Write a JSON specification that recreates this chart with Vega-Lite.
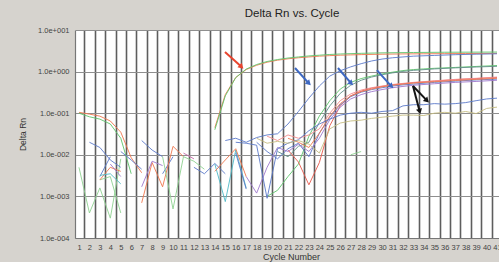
{
  "$schema": "https://vega.github.io/schema/vega-lite/v6.json",
  "autosize": {"type": "none"},
  "width": 424,
  "height": 208,
  "padding": {"left": 75, "top": 30, "right": 0, "bottom": 24},
  "background": "#d6d3ce",
  "config": {
    "view": {"fill": "#ffffff", "stroke": null},
    "font": "Liberation Sans",
    "axis": {"labelFont": "Liberation Sans", "titleFont": "Liberation Sans"}
  },
  "title": {"text": "Delta Rn vs. Cycle", "fontSize": 11.5, "fontWeight": "normal", "color": "#222222", "offset": 7, "dx": 5, "font": "Liberation Sans"},
  "datasets": {
    "curves": [
      {"s":"e1","k":"orange","c":1,"v":0.105},{"s":"e1","k":"orange","c":2,"v":0.095},{"s":"e1","k":"orange","c":3,"v":0.085},{"s":"e1","k":"orange","c":4,"v":0.065},{"s":"e1","k":"orange","c":5,"v":0.035},{"s":"e1","k":"orange","c":6,"v":0.0085},{"s":"e1","k":"orange","c":7,"v":0.0037},
      {"s":"e2","k":"green","c":1,"v":0.1},{"s":"e2","k":"green","c":2,"v":0.082},{"s":"e2","k":"green","c":3,"v":0.072},{"s":"e2","k":"green","c":4,"v":0.055},{"s":"e2","k":"green","c":5,"v":0.025},{"s":"e2","k":"green","c":6,"v":0.0035},
      {"s":"A1","k":"orange","c":14,"v":0.045},{"s":"A1","k":"orange","c":15,"v":0.28},{"s":"A1","k":"orange","c":16,"v":0.72},{"s":"A1","k":"orange","c":17,"v":1.12},{"s":"A1","k":"orange","c":18,"v":1.42},{"s":"A1","k":"orange","c":19,"v":1.68},{"s":"A1","k":"orange","c":20,"v":1.88},{"s":"A1","k":"orange","c":21,"v":2.03},{"s":"A1","k":"orange","c":22,"v":2.15},{"s":"A1","k":"orange","c":23,"v":2.25},{"s":"A1","k":"orange","c":24,"v":2.35},{"s":"A1","k":"orange","c":25,"v":2.42},{"s":"A1","k":"orange","c":26,"v":2.48},{"s":"A1","k":"orange","c":27,"v":2.52},{"s":"A1","k":"orange","c":28,"v":2.56},{"s":"A1","k":"orange","c":30,"v":2.62},{"s":"A1","k":"orange","c":32,"v":2.66},{"s":"A1","k":"orange","c":34,"v":2.68},{"s":"A1","k":"orange","c":36,"v":2.7},{"s":"A1","k":"orange","c":38,"v":2.72},{"s":"A1","k":"orange","c":41,"v":2.74},
      {"s":"A2","k":"green","c":14,"v":0.04},{"s":"A2","k":"green","c":15,"v":0.26},{"s":"A2","k":"green","c":16,"v":0.72},{"s":"A2","k":"green","c":17,"v":1.15},{"s":"A2","k":"green","c":18,"v":1.48},{"s":"A2","k":"green","c":19,"v":1.75},{"s":"A2","k":"green","c":20,"v":1.95},{"s":"A2","k":"green","c":21,"v":2.12},{"s":"A2","k":"green","c":22,"v":2.25},{"s":"A2","k":"green","c":23,"v":2.38},{"s":"A2","k":"green","c":24,"v":2.48},{"s":"A2","k":"green","c":25,"v":2.58},{"s":"A2","k":"green","c":26,"v":2.65},{"s":"A2","k":"green","c":28,"v":2.75},{"s":"A2","k":"green","c":30,"v":2.82},{"s":"A2","k":"green","c":33,"v":2.88},{"s":"A2","k":"green","c":36,"v":2.92},{"s":"A2","k":"green","c":41,"v":2.95},
      {"s":"B1","k":"blue","c":15,"v":0.022},{"s":"B1","k":"blue","c":16,"v":0.025},{"s":"B1","k":"blue","c":17,"v":0.02},{"s":"B1","k":"blue","c":18,"v":0.026},{"s":"B1","k":"blue","c":19,"v":0.03},{"s":"B1","k":"blue","c":20,"v":0.032},{"s":"B1","k":"blue","c":21,"v":0.055},{"s":"B1","k":"blue","c":22,"v":0.11},{"s":"B1","k":"blue","c":23,"v":0.23},{"s":"B1","k":"blue","c":24,"v":0.45},{"s":"B1","k":"blue","c":25,"v":0.78},{"s":"B1","k":"blue","c":26,"v":1.05},{"s":"B1","k":"blue","c":27,"v":1.3},{"s":"B1","k":"blue","c":28,"v":1.55},{"s":"B1","k":"blue","c":29,"v":1.8},{"s":"B1","k":"blue","c":30,"v":2.0},{"s":"B1","k":"blue","c":31,"v":2.15},{"s":"B1","k":"blue","c":32,"v":2.25},{"s":"B1","k":"blue","c":33,"v":2.35},{"s":"B1","k":"blue","c":35,"v":2.45},{"s":"B1","k":"blue","c":37,"v":2.55},{"s":"B1","k":"blue","c":39,"v":2.62},{"s":"B1","k":"blue","c":41,"v":2.68},
      {"s":"G1","k":"green","c":19,"v":0.001},{"s":"G1","k":"green","c":20,"v":0.0014},{"s":"G1","k":"green","c":21,"v":0.003},{"s":"G1","k":"green","c":22,"v":0.006},{"s":"G1","k":"green","c":23,"v":0.028},{"s":"G1","k":"green","c":24,"v":0.085},{"s":"G1","k":"green","c":25,"v":0.2},{"s":"G1","k":"green","c":26,"v":0.38},{"s":"G1","k":"green","c":27,"v":0.55},{"s":"G1","k":"green","c":28,"v":0.68},{"s":"G1","k":"green","c":29,"v":0.78},{"s":"G1","k":"green","c":30,"v":0.88},{"s":"G1","k":"green","c":31,"v":0.97},{"s":"G1","k":"green","c":32,"v":1.06},{"s":"G1","k":"green","c":33,"v":1.12},{"s":"G1","k":"green","c":34,"v":1.16},{"s":"G1","k":"green","c":35,"v":1.2},{"s":"G1","k":"green","c":37,"v":1.26},{"s":"G1","k":"green","c":39,"v":1.33},{"s":"G1","k":"green","c":41,"v":1.4},
      {"s":"T1","k":"tealgray","c":20,"v":0.012},{"s":"T1","k":"tealgray","c":21,"v":0.009},{"s":"T1","k":"tealgray","c":22,"v":0.016},{"s":"T1","k":"tealgray","c":23,"v":0.02},{"s":"T1","k":"tealgray","c":24,"v":0.06},{"s":"T1","k":"tealgray","c":25,"v":0.15},{"s":"T1","k":"tealgray","c":26,"v":0.3},{"s":"T1","k":"tealgray","c":27,"v":0.47},{"s":"T1","k":"tealgray","c":28,"v":0.62},{"s":"T1","k":"tealgray","c":29,"v":0.74},{"s":"T1","k":"tealgray","c":30,"v":0.84},{"s":"T1","k":"tealgray","c":31,"v":0.93},{"s":"T1","k":"tealgray","c":32,"v":1.01},{"s":"T1","k":"tealgray","c":33,"v":1.07},{"s":"T1","k":"tealgray","c":35,"v":1.16},{"s":"T1","k":"tealgray","c":37,"v":1.23},{"s":"T1","k":"tealgray","c":39,"v":1.29},{"s":"T1","k":"tealgray","c":41,"v":1.34},
      {"s":"R1","k":"red","c":21,"v":0.013},{"s":"R1","k":"red","c":22,"v":0.0067},{"s":"R1","k":"red","c":23,"v":0.0019},{"s":"R1","k":"red","c":24,"v":0.0065},{"s":"R1","k":"red","c":25,"v":0.05},{"s":"R1","k":"red","c":26,"v":0.15},{"s":"R1","k":"red","c":27,"v":0.26},{"s":"R1","k":"red","c":28,"v":0.34},{"s":"R1","k":"red","c":29,"v":0.4},{"s":"R1","k":"red","c":30,"v":0.44},{"s":"R1","k":"red","c":31,"v":0.48},{"s":"R1","k":"red","c":32,"v":0.51},{"s":"R1","k":"red","c":33,"v":0.54},{"s":"R1","k":"red","c":35,"v":0.59},{"s":"R1","k":"red","c":37,"v":0.64},{"s":"R1","k":"red","c":39,"v":0.68},{"s":"R1","k":"red","c":41,"v":0.72},
      {"s":"P1","k":"pink","c":19,"v":0.028},{"s":"P1","k":"pink","c":20,"v":0.022},{"s":"P1","k":"pink","c":21,"v":0.03},{"s":"P1","k":"pink","c":22,"v":0.025},{"s":"P1","k":"pink","c":23,"v":0.03},{"s":"P1","k":"pink","c":24,"v":0.042},{"s":"P1","k":"pink","c":25,"v":0.1},{"s":"P1","k":"pink","c":26,"v":0.2},{"s":"P1","k":"pink","c":27,"v":0.29},{"s":"P1","k":"pink","c":28,"v":0.36},{"s":"P1","k":"pink","c":29,"v":0.41},{"s":"P1","k":"pink","c":30,"v":0.45},{"s":"P1","k":"pink","c":31,"v":0.49},{"s":"P1","k":"pink","c":32,"v":0.52},{"s":"P1","k":"pink","c":33,"v":0.55},{"s":"P1","k":"pink","c":35,"v":0.6},{"s":"P1","k":"pink","c":37,"v":0.65},{"s":"P1","k":"pink","c":39,"v":0.69},{"s":"P1","k":"pink","c":41,"v":0.74},
      {"s":"B2","k":"blue","c":18,"v":0.02},{"s":"B2","k":"blue","c":19,"v":0.012},{"s":"B2","k":"blue","c":20,"v":0.008},{"s":"B2","k":"blue","c":21,"v":0.014},{"s":"B2","k":"blue","c":22,"v":0.019},{"s":"B2","k":"blue","c":23,"v":0.009},{"s":"B2","k":"blue","c":24,"v":0.033},{"s":"B2","k":"blue","c":25,"v":0.08},{"s":"B2","k":"blue","c":26,"v":0.16},{"s":"B2","k":"blue","c":27,"v":0.25},{"s":"B2","k":"blue","c":28,"v":0.32},{"s":"B2","k":"blue","c":29,"v":0.37},{"s":"B2","k":"blue","c":30,"v":0.41},{"s":"B2","k":"blue","c":31,"v":0.45},{"s":"B2","k":"blue","c":32,"v":0.48},{"s":"B2","k":"blue","c":33,"v":0.5},{"s":"B2","k":"blue","c":35,"v":0.55},{"s":"B2","k":"blue","c":37,"v":0.59},{"s":"B2","k":"blue","c":39,"v":0.63},{"s":"B2","k":"blue","c":41,"v":0.66},
      {"s":"V1","k":"purple","c":17,"v":0.003},{"s":"V1","k":"purple","c":18,"v":0.0012},{"s":"V1","k":"purple","c":19,"v":0.005},{"s":"V1","k":"purple","c":20,"v":0.015},{"s":"V1","k":"purple","c":21,"v":0.012},{"s":"V1","k":"purple","c":22,"v":0.018},{"s":"V1","k":"purple","c":23,"v":0.012},{"s":"V1","k":"purple","c":24,"v":0.025},{"s":"V1","k":"purple","c":25,"v":0.07},{"s":"V1","k":"purple","c":26,"v":0.14},{"s":"V1","k":"purple","c":27,"v":0.22},{"s":"V1","k":"purple","c":28,"v":0.28},{"s":"V1","k":"purple","c":29,"v":0.33},{"s":"V1","k":"purple","c":30,"v":0.37},{"s":"V1","k":"purple","c":31,"v":0.41},{"s":"V1","k":"purple","c":32,"v":0.44},{"s":"V1","k":"purple","c":33,"v":0.47},{"s":"V1","k":"purple","c":35,"v":0.51},{"s":"V1","k":"purple","c":37,"v":0.55},{"s":"V1","k":"purple","c":39,"v":0.58},{"s":"V1","k":"purple","c":41,"v":0.62},
      {"s":"O1","k":"orange","c":21,"v":0.025},{"s":"O1","k":"orange","c":22,"v":0.02},{"s":"O1","k":"orange","c":23,"v":0.015},{"s":"O1","k":"orange","c":24,"v":0.033},{"s":"O1","k":"orange","c":25,"v":0.085},{"s":"O1","k":"orange","c":26,"v":0.17},{"s":"O1","k":"orange","c":27,"v":0.26},{"s":"O1","k":"orange","c":28,"v":0.33},{"s":"O1","k":"orange","c":29,"v":0.38},{"s":"O1","k":"orange","c":30,"v":0.43},{"s":"O1","k":"orange","c":31,"v":0.47},{"s":"O1","k":"orange","c":32,"v":0.5},{"s":"O1","k":"orange","c":33,"v":0.53},{"s":"O1","k":"orange","c":35,"v":0.57},{"s":"O1","k":"orange","c":37,"v":0.61},{"s":"O1","k":"orange","c":39,"v":0.65},{"s":"O1","k":"orange","c":41,"v":0.69},
      {"s":"L1","k":"blue","c":16,"v":0.02},{"s":"L1","k":"blue","c":17,"v":0.019},{"s":"L1","k":"blue","c":18,"v":0.017},{"s":"L1","k":"blue","c":19,"v":0.0009},{"s":"L1","k":"blue","c":20,"v":0.014},{"s":"L1","k":"blue","c":21,"v":0.019},{"s":"L1","k":"blue","c":22,"v":0.023},{"s":"L1","k":"blue","c":23,"v":0.038},{"s":"L1","k":"blue","c":24,"v":0.055},{"s":"L1","k":"blue","c":25,"v":0.072},{"s":"L1","k":"blue","c":26,"v":0.09},{"s":"L1","k":"blue","c":27,"v":0.1},{"s":"L1","k":"blue","c":28,"v":0.105},{"s":"L1","k":"blue","c":29,"v":0.1},{"s":"L1","k":"blue","c":30,"v":0.11},{"s":"L1","k":"blue","c":31,"v":0.115},{"s":"L1","k":"blue","c":32,"v":0.15},{"s":"L1","k":"blue","c":33,"v":0.16},{"s":"L1","k":"blue","c":34,"v":0.16},{"s":"L1","k":"blue","c":35,"v":0.17},{"s":"L1","k":"blue","c":36,"v":0.165},{"s":"L1","k":"blue","c":37,"v":0.17},{"s":"L1","k":"blue","c":38,"v":0.18},{"s":"L1","k":"blue","c":39,"v":0.2},{"s":"L1","k":"blue","c":40,"v":0.22},{"s":"L1","k":"blue","c":41,"v":0.23},
      {"s":"Y1","k":"olive","c":18,"v":0.025},{"s":"Y1","k":"olive","c":19,"v":0.019},{"s":"Y1","k":"olive","c":20,"v":0.021},{"s":"Y1","k":"olive","c":21,"v":0.019},{"s":"Y1","k":"olive","c":22,"v":0.022},{"s":"Y1","k":"olive","c":23,"v":0.018},{"s":"Y1","k":"olive","c":24,"v":0.011},{"s":"Y1","k":"olive","c":25,"v":0.042},{"s":"Y1","k":"olive","c":26,"v":0.058},{"s":"Y1","k":"olive","c":27,"v":0.065},{"s":"Y1","k":"olive","c":28,"v":0.068},{"s":"Y1","k":"olive","c":29,"v":0.075},{"s":"Y1","k":"olive","c":30,"v":0.08},{"s":"Y1","k":"olive","c":31,"v":0.085},{"s":"Y1","k":"olive","c":32,"v":0.09},{"s":"Y1","k":"olive","c":33,"v":0.09},{"s":"Y1","k":"olive","c":34,"v":0.088},{"s":"Y1","k":"olive","c":35,"v":0.1},{"s":"Y1","k":"olive","c":36,"v":0.105},{"s":"Y1","k":"olive","c":37,"v":0.1},{"s":"Y1","k":"olive","c":38,"v":0.11},{"s":"Y1","k":"olive","c":39,"v":0.098},{"s":"Y1","k":"olive","c":40,"v":0.13},{"s":"Y1","k":"olive","c":41,"v":0.14},
      {"s":"n1","k":"lgreen","c":1,"v":0.005},{"s":"n1","k":"lgreen","c":2,"v":0.0004},{"s":"n1","k":"lgreen","c":3,"v":0.0016},{"s":"n1","k":"lgreen","c":4,"v":0.0003},{"s":"n1","k":"lgreen","c":5,"v":0.008},
      {"s":"n2","k":"lgreen","c":3,"v":0.0025},{"s":"n2","k":"lgreen","c":4,"v":0.003},{"s":"n2","k":"lgreen","c":5,"v":0.0004},
      {"s":"n3","k":"blue","c":2,"v":0.02},{"s":"n3","k":"blue","c":3,"v":0.015},{"s":"n3","k":"blue","c":4,"v":0.0075},{"s":"n3","k":"blue","c":5,"v":0.005},
      {"s":"n4","k":"orange","c":3,"v":0.0025},{"s":"n4","k":"orange","c":4,"v":0.005},{"s":"n4","k":"orange","c":5,"v":0.004},
      {"s":"n5","k":"purple","c":4,"v":0.006},{"s":"n5","k":"purple","c":5,"v":0.003},
      {"s":"n6","k":"blue","c":3,"v":0.003},{"s":"n6","k":"blue","c":4,"v":0.009},
      {"s":"n7","k":"teal","c":3,"v":0.0032},{"s":"n7","k":"teal","c":4,"v":0.0035},{"s":"n7","k":"teal","c":5,"v":0.002},
      {"s":"n8","k":"blue","c":7,"v":0.022},{"s":"n8","k":"blue","c":8,"v":0.013},{"s":"n8","k":"blue","c":9,"v":0.009},
      {"s":"n9","k":"blue","c":9,"v":0.0035},{"s":"n9","k":"blue","c":10,"v":0.009},
      {"s":"n10","k":"orange","c":7,"v":0.0007},{"s":"n10","k":"orange","c":8,"v":0.0065},{"s":"n10","k":"orange","c":9,"v":0.0017},{"s":"n10","k":"orange","c":10,"v":0.016},{"s":"n10","k":"orange","c":11,"v":0.009},
      {"s":"n11","k":"lgreen","c":9,"v":0.009},{"s":"n11","k":"lgreen","c":10,"v":0.0005},{"s":"n11","k":"lgreen","c":11,"v":0.009},{"s":"n11","k":"lgreen","c":12,"v":0.007},{"s":"n11","k":"lgreen","c":13,"v":0.0045},
      {"s":"n12","k":"purple","c":7,"v":0.0017},{"s":"n12","k":"purple","c":8,"v":0.007},{"s":"n12","k":"purple","c":9,"v":0.0055},
      {"s":"n13","k":"magenta","c":11,"v":0.011},{"s":"n13","k":"magenta","c":12,"v":0.008},
      {"s":"n14","k":"blue","c":12,"v":0.005},{"s":"n14","k":"blue","c":13,"v":0.0035},{"s":"n14","k":"blue","c":14,"v":0.0062},{"s":"n14","k":"blue","c":15,"v":0.0035},
      {"s":"n15","k":"teal","c":14,"v":0.006},{"s":"n15","k":"teal","c":15,"v":0.00075},{"s":"n15","k":"teal","c":16,"v":0.013},{"s":"n15","k":"teal","c":17,"v":0.0016},
      {"s":"n16","k":"orange","c":14,"v":0.004},{"s":"n16","k":"orange","c":15,"v":0.0075},{"s":"n16","k":"orange","c":16,"v":0.014},{"s":"n16","k":"orange","c":17,"v":0.003},
      {"s":"n17","k":"blue","c":16,"v":0.011},{"s":"n17","k":"blue","c":17,"v":0.0015},
      {"s":"n18","k":"lgreen","c":27,"v":0.01},{"s":"n18","k":"lgreen","c":28,"v":0.012},
      {"s":"n19","k":"blue","c":5,"v":0.012},{"s":"n19","k":"blue","c":6,"v":0.0075},{"s":"n19","k":"blue","c":7,"v":0.0045}
    ],
    "arrows": [
      {"a":"r","k":"arrowred","c":14.97,"v":2.96,"c2":16.55,"v2":1.3},
      {"a":"b1","k":"arrowblue","c":21.67,"v":1.22,"c2":23.0,"v2":0.52},
      {"a":"b2","k":"arrowblue","c":25.78,"v":1.22,"c2":27.05,"v2":0.52},
      {"a":"b3","k":"arrowblue","c":29.5,"v":1.09,"c2":30.9,"v2":0.44},
      {"a":"k1","k":"arrowblack","c":32.96,"v":0.45,"c2":34.3,"v2":0.2},
      {"a":"k2","k":"arrowblack","c":32.96,"v":0.45,"c2":33.6,"v2":0.11}
    ]
  },
  "resolve": {"axis": {"x": "independent", "y": "independent"}},
  "layer": [
    {
      "data": {"name": "curves"},
      "mark": {"type": "line", "strokeWidth": 1, "clip": true, "opacity": 0.9},
      "encoding": {
        "x": {"field": "c", "type": "quantitative",
          "scale": {"domain": [0.62, 41.19], "nice": false, "zero": false},
          "axis": {"orient": "bottom", "values": [1.5,2.5,3.5,4.5,5.5,6.5,7.5,8.5,9.5,10.5,11.5,12.5,13.5,14.5,15.5,16.5,17.5,18.5,19.5,20.5,21.5,22.5,23.5,24.5,25.5,26.5,27.5,28.5,29.5,30.5,31.5,32.5,33.5,34.5,35.5,36.5,37.5,38.5,39.5,40.5],
            "grid": true, "gridColor": "#5e5e5e", "gridWidth": 1.6, "gridOpacity": 1, "labels": false, "ticks": false, "domain": false, "title": null}},
        "y": {"field": "v", "type": "quantitative",
          "scale": {"type": "log", "domain": [0.0001, 10], "nice": false},
          "axis": {"orient": "left", "values": [0.0001, 0.001, 0.01, 0.1, 1, 10],
            "labelExpr": "'1.0e' + (round(log(datum.value)/LN10) >= 0 ? '+00' + round(log(datum.value)/LN10) : '-00' + abs(round(log(datum.value)/LN10)))",
            "grid": true, "gridColor": "#8e8e8e", "gridWidth": 1.2, "gridOpacity": 1, "ticks": false, "domain": true, "domainColor": "#777777", "domainWidth": 1.2,
            "labelFontSize": 7.5, "labelColor": "#444444", "labelPadding": 6,
            "title": "Delta Rn", "titleFontSize": 8.5, "titleFontWeight": "normal", "titleColor": "#333333", "titleX": -53, "titleY": 104, "titleAlign": "center", "titleBaseline": "middle"}},
        "detail": {"field": "s"},
        "color": {"field": "k", "type": "nominal", "legend": null,
          "scale": {"domain": ["orange","green","lgreen","blue","purple","magenta","teal","tealgray","olive","pink","red","arrowred","arrowblue","arrowblack"],
            "range": ["#f0784f","#5ec46c","#8fd291","#5b79c9","#9d78cc","#c66aa9","#50b9c6","#62908a","#c5bd82","#f28b8c","#e85a4c","#e8452f","#3d68c2","#141414"]}}
      }
    },
    {
      "data": {"name": "arrows"},
      "mark": {"type": "rule", "strokeWidth": 2},
      "encoding": {
        "x": {"field": "c", "type": "quantitative",
          "scale": {"domain": [0.62, 41.19], "nice": false, "zero": false},
          "axis": {"orient": "bottom", "values": [1,2,3,4,5,6,7,8,9,10,11,12,13,14,15,16,17,18,19,20,21,22,23,24,25,26,27,28,29,30,31,32,33,34,35,36,37,38,39,40,41],
            "grid": false, "ticks": false, "domain": true, "domainColor": "#777777", "domainWidth": 1.2,
            "labelFontSize": 7.5, "labelColor": "#444444", "labelPadding": 5, "labelFlush": false, "labelOverlap": false, "labelBound": false,
            "title": "Cycle Number", "titleFontSize": 9, "titleFontWeight": "normal", "titleColor": "#333333", "titlePadding": 2, "titleX": 216}},
        "y": {"field": "v", "type": "quantitative", "scale": {"type": "log", "domain": [0.0001, 10], "nice": false}, "axis": null},
        "x2": {"field": "c2"},
        "y2": {"field": "v2"},
        "color": {"field": "k", "type": "nominal", "legend": null}
      }
    },
    {
      "data": {"name": "arrows"},
      "transform": [{"filter": "datum.a != 'k2'"}],
      "mark": {"type": "point", "shape": "triangle-up", "filled": true, "opacity": 1, "size": 38, "angle": 135},
      "encoding": {
        "x": {"field": "c2", "type": "quantitative", "axis": null},
        "y": {"field": "v2", "type": "quantitative", "axis": null},
        "color": {"field": "k", "type": "nominal", "legend": null}
      }
    },
    {
      "data": {"name": "arrows"},
      "transform": [{"filter": "datum.a == 'k2'"}],
      "mark": {"type": "point", "shape": "triangle-up", "filled": true, "opacity": 1, "size": 38, "angle": 165},
      "encoding": {
        "x": {"field": "c2", "type": "quantitative", "axis": null},
        "y": {"field": "v2", "type": "quantitative", "axis": null},
        "color": {"field": "k", "type": "nominal", "legend": null}
      }
    },
    {
      "mark": {"type": "rule", "color": "#3fb54c", "strokeWidth": 2.5},
      "encoding": {"y": {"datum": 0.046, "type": "quantitative", "axis": null}}
    }
  ]
}
